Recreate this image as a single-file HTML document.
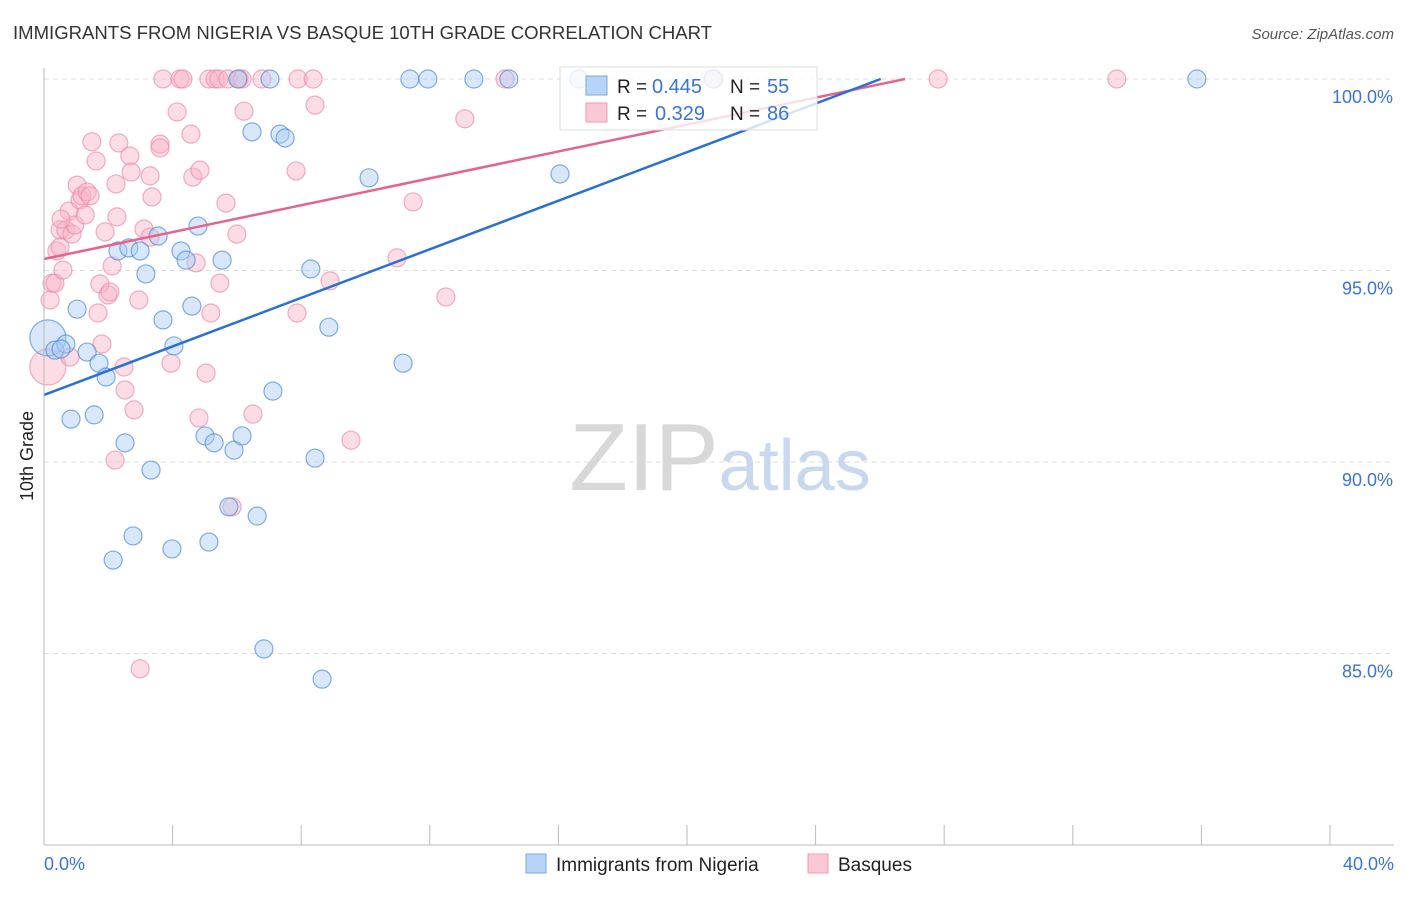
<!DOCTYPE html>
<html><head><meta charset="utf-8"><style>
body{margin:0;background:#fff;font-family:"Liberation Sans",sans-serif;}
svg text{font-family:"Liberation Sans",sans-serif;}
</style></head><body>
<svg id="chart" width="1406" height="892" xmlns="http://www.w3.org/2000/svg">
<text x="13" y="39" font-size="18" fill="#333" textLength="699" lengthAdjust="spacingAndGlyphs">IMMIGRANTS FROM NIGERIA VS BASQUE 10TH GRADE CORRELATION CHART</text>
<text x="1394" y="39" font-size="15" fill="#555" text-anchor="end" font-style="italic">Source: ZipAtlas.com</text>
<g id="grid"></g>
<text x="720" y="490" font-size="96" text-anchor="middle" fill="#ddd" font-family="Liberation Serif"><tspan fill="#d8d8d8">ZIP</tspan><tspan fill="#c8d8ee" font-family="Liberation Sans" font-size="72">atlas</tspan></text>
<g id="points"></g>
<g id="lines"></g>
<line x1="44" y1="845" x2="1394" y2="845" stroke="#bbb"/>
<line x1="44" y1="68" x2="44" y2="845" stroke="#bbb"/>
<text transform="translate(33,456) rotate(-90)" font-size="18" fill="#222" text-anchor="middle">10th Grade</text>
<text x="44" y="870" font-size="18" fill="#3a74d6">0.0%</text>
<text x="1394" y="870" font-size="18" fill="#3a74d6" text-anchor="end">40.0%</text>
<g>
<rect x="560" y="67" width="257" height="63" fill="#fff" fill-opacity="0.8" stroke="#ddd"/>
<rect x="586" y="76" width="21" height="19" fill="#b8d3f5" stroke="#7aa7e6"/>
<rect x="586" y="103" width="21" height="19" fill="#fbc8d6" stroke="#f09ab3"/>
<text x="617" y="93" font-size="19" fill="#222">R =</text>
<text x="652" y="93" font-size="20" fill="#3a74d6">0.445</text>
<text x="730" y="93" font-size="19" fill="#222">N =</text>
<text x="767" y="93" font-size="20" fill="#3a74d6">55</text>
<text x="617" y="120" font-size="19" fill="#222">R =</text>
<text x="655" y="120" font-size="20" fill="#3a74d6">0.329</text>
<text x="730" y="120" font-size="19" fill="#222">N =</text>
<text x="767" y="120" font-size="20" fill="#3a74d6">86</text>
</g>
<g><rect x="526" y="854" width="20" height="19" fill="#b8d3f5" stroke="#7aa7e6"/><text x="556" y="871" font-size="19" fill="#222">Immigrants from Nigeria</text></g>
<g><rect x="808" y="854" width="20" height="19" fill="#fbc8d6" stroke="#f09ab3"/><text x="838" y="871" font-size="19" fill="#222">Basques</text></g>
</svg>
<script>
const yTicks=[100,95,90,85];
const xTicks=[0,4,8,12,16,20,24,28,32,36,40];
const bluePx=[[48,338,18],[55,350],[66,344],[61,349],[77,309],[71,419],[94,415],[87,352],[99,363],[106,377],[113,560],[118,251],[125,443],[129,248],[133,536],[140,251],[146,274],[151,470],[158,236],[163,320],[172,549],[174,346],[181,251],[186,260],[192,306],[198,226],[205,436],[209,542],[214,443],[222,260],[229,507],[234,450],[242,436],[252,132],[257,516],[264,649],[270,79],[273,391],[280,134],[285,138],[311,269],[315,458],[322,679],[329,327],[369,178],[403,363],[410,79],[428,79],[474,79],[509,79],[560,174],[579,79],[713,79],[1197,79],[238,79]];
const pinkPx=[[48,367,18],[50,300],[52,283],[55,283],[57,251],[60,247],[63,270],[60,230],[66,230],[69,211],[72,234],[75,225],[77,185],[80,200],[82,196],[85,215],[87,192],[90,196],[92,142],[96,161],[100,284],[98,313],[102,344],[70,357],[105,232],[108,295],[110,292],[112,266],[115,460],[116,184],[117,217],[119,143],[124,367],[125,390],[130,156],[131,172],[134,410],[139,300],[144,229],[150,176],[152,197],[150,237],[160,144],[163,79],[171,363],[177,112],[180,79],[183,79],[191,134],[193,177],[196,263],[199,418],[200,170],[206,373],[209,79],[211,313],[215,79],[219,79],[220,283],[226,203],[228,79],[232,507],[237,234],[239,79],[244,111],[253,414],[262,79],[296,171],[298,79],[297,313],[313,79],[315,105],[330,281],[351,440],[397,258],[413,202],[446,297],[465,119],[505,79],[140,669],[714,79],[938,79],[1117,79],[242,79],[160,148],[61,219]];
const blueX=bluePx.map(p=>+((p[0]-44)/32.15).toFixed(2));
const blueY=bluePx.map(p=>+(100-(p[1]-79)/38.3).toFixed(2));
const pinkX=pinkPx.map(p=>+((p[0]-44)/32.15).toFixed(2));
const pinkY=pinkPx.map(p=>+(100-(p[1]-79)/38.3).toFixed(2));
const blueTrend=[91.75,0.317];
const pinkTrend=[95.30,0.1755];
const sx=v=>44+v*32.15, sy=v=>79+(100-v)*38.3;
const NS="http://www.w3.org/2000/svg";
const grid=document.getElementById('grid');
yTicks.forEach(t=>{
 const l=document.createElementNS(NS,'line');
 
 
 l.setAttribute('x1',44);l.setAttribute('x2',1394);l.setAttribute('y1',sy(t));l.setAttribute('y2',sy(t));
 l.setAttribute('stroke','#ddd');l.setAttribute('stroke-dasharray','5,4');grid.appendChild(l);
 const tx=document.createElementNS(NS,'text');
 
 
 tx.setAttribute('x',1393);tx.setAttribute('y',sy(t)+24);tx.setAttribute('text-anchor','end');
 tx.setAttribute('font-size','18');tx.setAttribute('fill','#3a74d6');tx.textContent=t.toFixed(1)+'%';grid.appendChild(tx);
});
xTicks.forEach(t=>{
 const l=document.createElementNS(NS,'line');
 
 
 l.setAttribute('x1',sx(t));l.setAttribute('x2',sx(t));l.setAttribute('y1',825);l.setAttribute('y2',845);
 l.setAttribute('stroke','#bbb');grid.appendChild(l);
});
const pts=document.getElementById('points');
function dots(xs,ys,src,fill,stroke,name){
 xs.forEach((x,i)=>{
  const c=document.createElementNS(NS,'circle');
  
  
  c.setAttribute('cx',sx(x));c.setAttribute('cy',sy(ys[i]));c.setAttribute('r',src[i][2]||9);
  c.setAttribute('fill',fill);c.setAttribute('fill-opacity','0.45');c.setAttribute('stroke',stroke);c.setAttribute('stroke-opacity','0.7');c.setAttribute('stroke-width','1.2');
  pts.appendChild(c);
 });
}
dots(pinkX,pinkY,pinkPx,'#f8b4c8','#ec8aa8','basque-point');
dots(blueX,blueY,bluePx,'#a9cbf3','#4f8ad9','nigeria-point');
const lines=document.getElementById('lines');
function trend(p,color,name){
 const xEnd=(100-p[0])/p[1];
 const l=document.createElementNS(NS,'line');
 
 
 l.setAttribute('x1',sx(0));l.setAttribute('y1',sy(p[0]));l.setAttribute('x2',sx(xEnd));l.setAttribute('y2',sy(100));
 l.setAttribute('stroke',color);l.setAttribute('stroke-width','2.5');lines.appendChild(l);
}
trend(pinkTrend,'#e8628e','basque-trendline');
trend(blueTrend,'#2a6fd6','nigeria-trendline');
</script>
</body></html>
